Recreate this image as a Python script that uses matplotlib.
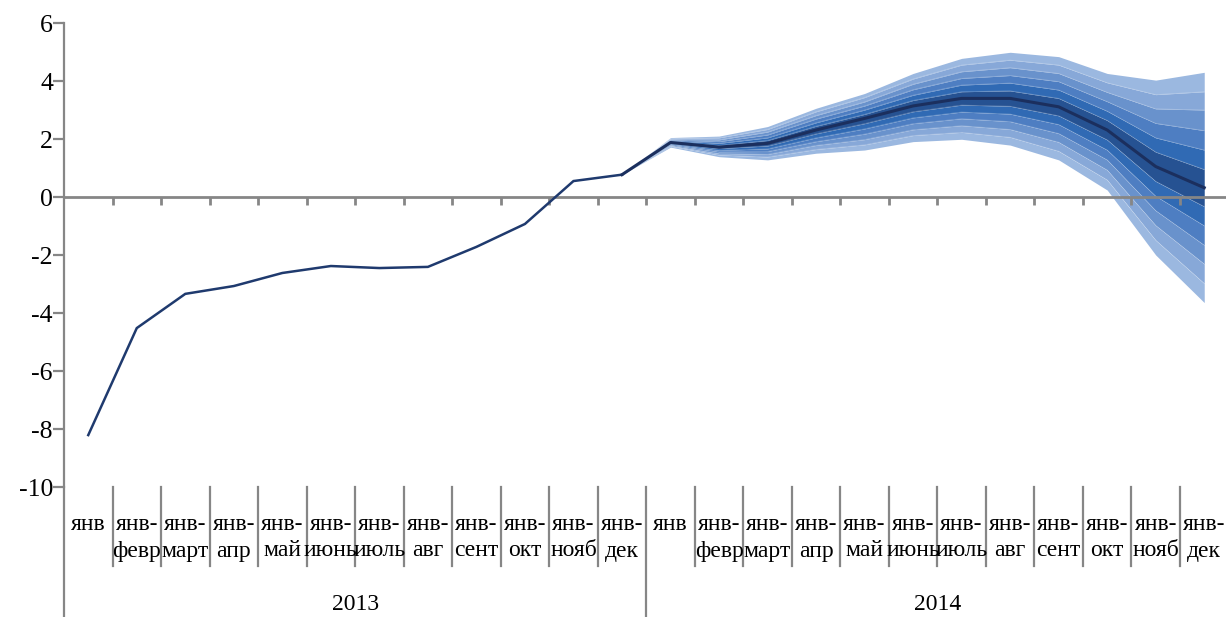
import matplotlib
matplotlib.use("Agg")
import matplotlib.pyplot as plt
import matplotlib.transforms as mtransforms

plt.rcParams['font.family'] = ['Liberation Serif', 'DejaVu Serif']

# ---------------- data ----------------
years = ["2013", "2014"]
month_labels = ["янв", "янв-февр", "янв-март", "янв-апр", "янв-май", "янв-июнь",
                "янв-июль", "янв-авг", "янв-сент", "янв-окт", "янв-нояб", "янв-дек"]

# actual values, Jan 2013 .. Dec 2013
actual = [-8.21, -4.52, -3.34, -3.07, -2.62, -2.38, -2.45, -2.41, -1.72, -0.93, 0.55, 0.77]

# forecast fan, Dec 2013 .. Dec 2014 (13 points)
center = [0.77, 1.88, 1.72, 1.85, 2.31, 2.71, 3.14, 3.40, 3.40, 3.11, 2.31, 1.05, 0.32]
up6 = [0.77, 2.05, 2.10, 2.43, 3.06, 3.57, 4.26, 4.78, 4.99, 4.84, 4.26, 4.03, 4.30]
up5 = [0.77, 2.02, 2.04, 2.33, 2.94, 3.43, 4.07, 4.55, 4.72, 4.55, 3.94, 3.53, 3.63]
up4 = [0.77, 1.99, 1.97, 2.24, 2.81, 3.28, 3.89, 4.32, 4.46, 4.26, 3.61, 3.04, 3.00]
up3 = [0.77, 1.97, 1.91, 2.14, 2.69, 3.14, 3.70, 4.09, 4.19, 3.98, 3.29, 2.54, 2.29]
up2 = [0.77, 1.94, 1.85, 2.04, 2.56, 3.00, 3.51, 3.86, 3.93, 3.69, 2.96, 2.04, 1.62]
up1 = [0.77, 1.91, 1.78, 1.95, 2.44, 2.85, 3.33, 3.63, 3.66, 3.40, 2.64, 1.55, 0.95]
lo1 = [0.77, 1.85, 1.67, 1.76, 2.18, 2.53, 2.94, 3.17, 3.13, 2.80, 1.97, 0.54, -0.33]
lo2 = [0.77, 1.83, 1.61, 1.66, 2.04, 2.35, 2.73, 2.93, 2.86, 2.50, 1.62, 0.03, -0.99]
lo3 = [0.77, 1.80, 1.56, 1.57, 1.91, 2.17, 2.53, 2.70, 2.60, 2.19, 1.28, -0.47, -1.66]
lo4 = [0.77, 1.77, 1.50, 1.47, 1.78, 1.98, 2.32, 2.46, 2.33, 1.89, 0.93, -0.98, -2.31]
lo5 = [0.77, 1.75, 1.45, 1.38, 1.64, 1.80, 2.12, 2.23, 2.06, 1.58, 0.59, -1.49, -2.98]
lo6 = [0.77, 1.72, 1.39, 1.28, 1.51, 1.62, 1.91, 1.99, 1.79, 1.28, 0.24, -2.00, -3.64]

band_colors = ["#9BB8E0", "#87A8D8", "#6992CC", "#4E7EC2", "#306AB4", "#265292"]
gray = "#868686"

# ---------------- figure ----------------
W, H = 1226, 617
fig = plt.figure(figsize=(W / 100, H / 100), dpi=100)
left_px, right_px, top_px, bottom_px = 64, 1228.5, 23, 487
ax = fig.add_axes([left_px / W, 1 - bottom_px / H,
                   (right_px - left_px) / W, (bottom_px - top_px) / H])

n_cat = len(years) * len(month_labels)
ax.set_xlim(0, n_cat)
ax.set_ylim(-10, 6)

x_act = [i + 0.5 for i in range(len(actual))]
x_fc = [len(actual) - 1 + i + 0.5 for i in range(len(center))]

uppers = [up6, up5, up4, up3, up2, up1, center]
lowers = [center, lo1, lo2, lo3, lo4, lo5, lo6]
for k in range(6):
    ax.fill_between(x_fc, uppers[k], uppers[k + 1], color=band_colors[k], lw=0, zorder=2)
    ax.fill_between(x_fc, lowers[k + 1], lowers[k], color=band_colors[5 - k], lw=0, zorder=2)
for b in [up5, up4, up3, up2, up1, lo1, lo2, lo3, lo4, lo5]:
    ax.plot(x_fc, b, color="white", lw=0.5, alpha=0.25, zorder=3)

ax.plot(x_act, actual, color="#1F3A6E", lw=1.8, zorder=6, solid_joinstyle="miter")
ax.plot(x_fc, center, color="#1B2F5E", lw=2.2, zorder=6)

# zero axis with tick marks
ax.axhline(0, color=gray, lw=2, zorder=5)
ax.vlines(range(1, n_cat), -0.26, 0, color=gray, lw=2, zorder=5)

# spines / y ticks
for s in ["top", "right", "bottom"]:
    ax.spines[s].set_visible(False)
ax.spines["left"].set_color(gray)
ax.spines["left"].set_linewidth(1.6)
ax.set_yticks(range(-10, 7, 2))
ax.set_yticklabels([str(v) for v in range(-10, 7, 2)], fontsize=18.5)
ax.tick_params(axis="y", direction="out", length=8, width=1.6, color=gray, pad=0)
ax.set_xticks([])

# category axis at bottom
trans = mtransforms.blended_transform_factory(ax.transData, ax.transAxes)
ax_h = bottom_px - top_px
def ay(px):
    return (bottom_px - px) / ax_h

for k in range(0, n_cat + 1):
    ybot = ay(617) if k % len(month_labels) == 0 else ay(566)
    ax.plot([k, k], [0, ybot], transform=trans, color=gray, lw=1.6, clip_on=False)

fs = 17
for yi, yr in enumerate(years):
    for mi, lab in enumerate(month_labels):
        xc = yi * len(month_labels) + mi + 0.5
        if "-" in lab:
            a, b = lab.split("-", 1)
            ax.text(xc, ay(524), a + "-", transform=trans, ha="center", va="center",
                    fontsize=fs, clip_on=False)
            ax.text(xc, ay(551), b, transform=trans, ha="center", va="center",
                    fontsize=fs, clip_on=False)
        else:
            ax.text(xc, ay(524), lab, transform=trans, ha="center", va="center",
                    fontsize=fs, clip_on=False)
    ax.text(yi * len(month_labels) + len(month_labels) / 2, ay(604), yr, transform=trans,
            ha="center", va="center", fontsize=fs, clip_on=False)

fig.savefig("out.png", dpi=100)
